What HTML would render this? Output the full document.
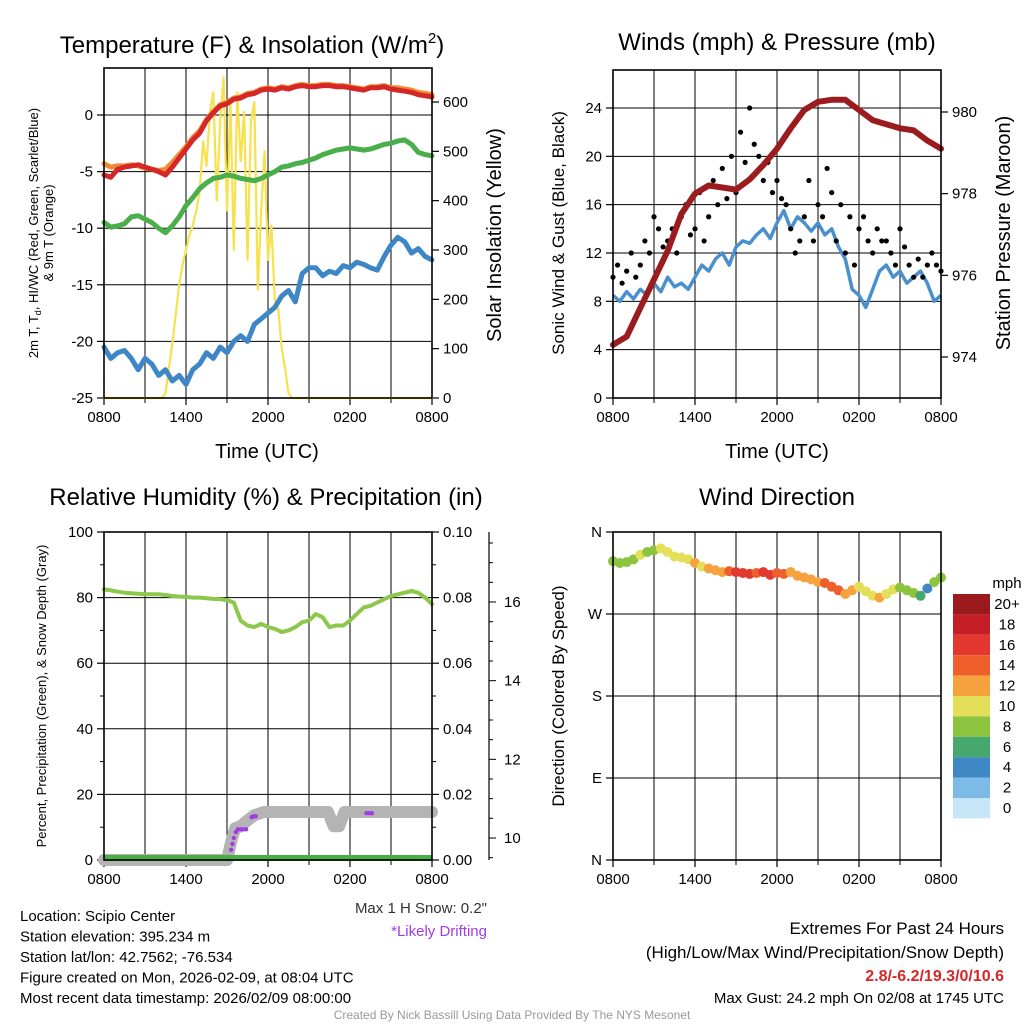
<!DOCTYPE html>
<html><head><meta charset="utf-8"><style>
body{margin:0;background:#fff}
svg{display:block;font-family:"Liberation Sans",sans-serif}
</style></head><body>
<svg id="c" width="1024" height="1024" viewBox="0 0 1024 1024">
<rect width="1024" height="1024" fill="#fff"/>
</svg>
<script>
// ---------- DATA ----------
const xTickLabels = ["0800","1400","2000","0200","0800"];
const tempRed = [-5.3,-5.5,-4.8,-4.6,-4.5,-4.4,-4.6,-4.8,-5.0,-5.3,-4.6,-3.8,-3.0,-2.2,-1.6,-0.5,0.2,0.8,1.0,1.4,1.5,1.8,1.9,2.2,2.3,2.2,2.4,2.3,2.5,2.6,2.5,2.5,2.6,2.6,2.5,2.5,2.4,2.3,2.2,2.4,2.4,2.5,2.3,2.2,2.1,2.0,1.8,1.7,1.6];
const tempOrange = [-4.3,-4.6,-4.5,-4.5,-4.4,-4.5,-4.7,-4.8,-4.9,-4.8,-4.2,-3.5,-2.8,-2.0,-1.4,-0.4,0.3,0.9,1.1,1.5,1.6,1.9,2.0,2.3,2.4,2.3,2.5,2.4,2.6,2.7,2.6,2.6,2.7,2.7,2.6,2.6,2.5,2.4,2.3,2.5,2.5,2.6,2.4,2.4,2.3,2.2,2.0,1.9,1.8];
const tempGreen = [-9.5,-9.9,-9.8,-9.6,-9.0,-8.9,-9.2,-9.5,-10.0,-10.4,-9.8,-9.0,-8.0,-7.3,-6.5,-6.0,-5.6,-5.5,-5.3,-5.4,-5.6,-5.7,-5.8,-5.6,-5.3,-5.0,-4.6,-4.5,-4.3,-4.2,-4.0,-3.8,-3.5,-3.3,-3.1,-3.0,-2.9,-3.0,-3.1,-3.0,-2.8,-2.6,-2.5,-2.3,-2.2,-2.6,-3.3,-3.5,-3.6];
const tempBlue = [-20.5,-21.5,-21,-20.8,-21.5,-22.5,-21.5,-22,-23,-22.5,-23.5,-23,-23.8,-22.5,-22,-21,-21.5,-20.5,-21,-20,-19.5,-20,-18.5,-18,-17.5,-17,-16,-15.5,-16.5,-14,-13.5,-13.5,-14.2,-13.8,-14,-13.3,-13.5,-13,-13.2,-13.5,-13.7,-12.5,-11.5,-10.8,-11.2,-12.2,-11.8,-12.5,-12.8];
const solarHours = [0,4.0,4.25,4.5,4.75,5.0,5.25,5.5,5.75,6.0,6.25,6.5,6.75,7.0,7.25,7.5,7.75,8.0,8.25,8.5,8.75,9.0,9.25,9.5,9.75,10.0,10.25,10.5,10.75,11.0,11.25,11.5,11.75,12.0,12.25,12.5,12.75,13.0,13.25,13.5,13.75,14.0,24];
const solarVals = [0,0,0,10,60,110,170,230,270,300,330,350,380,420,520,470,580,620,400,560,650,380,600,300,620,480,580,280,560,600,220,380,500,280,350,200,180,100,60,10,0,0,0];
const windSonic = [8.5,8,8.8,8.2,9,8.5,9.5,8.8,10,9.2,9.5,9,10,11,10.5,11.5,12,11,12.5,13,12.8,13.5,14,13.2,14.5,15.5,14,15,14.5,13.8,14.5,13.5,14,12.5,11.5,9,8.5,7.5,9,10.5,11,10,10.5,9.5,10,10.5,9.5,8,8.5];
const windGust = [10,11,9.5,10.5,12,10,11,13,12,15,14,12.5, 13,14,12,15,16,13.5,14,17,13,15,18,16, 19,16.5,20,17,22,19.5,24,21,20,18,19.5,17, 18,16.5,16,14,12,13,15,18,13,16,15,19, 17,13,16,12,15,11,14,15,13,12,14,13, 13,12,11,14,12.5,11,10,11.5,10,11,12,11,10.5];
const pressure = [974.3,974.5,975.2,975.9,976.6,977.5,978.0,978.2,978.15,978.1,978.35,978.7,979.1,979.6,980.05,980.25,980.3,980.3,980.05,979.8,979.7,979.6,979.55,979.3,979.1];
const rhVals = [82.5,82.2,81.8,81.5,81.3,81.2,81,81,81,80.8,80.5,80.3,80.2,80,80,79.8,79.6,79.5,79.2,78.5,73,71.5,71,72,71,70.5,69.5,70,71,72.5,73,75,74,71,71.5,71.5,73,75,77,77.5,78.5,79.5,80.5,81,81.5,82,81.5,80,78];
const snowHours = [0,9.0,9.3,9.6,10.0,10.5,11.0,11.7,16.4,16.8,17.2,17.6,24];
const snowDepth = [9.44,9.44,9.9,10.25,10.3,10.45,10.58,10.66,10.66,10.3,10.3,10.66,10.66];
const driftHours = [9.3,9.4,9.5,9.65,9.8,10.0,10.2,10.4,10.8,10.95,11.1,19.2,19.4,19.6];
const driftDepth = [9.7,9.85,10.0,10.15,10.22,10.22,10.22,10.22,10.53,10.55,10.55,10.63,10.63,10.63];
const dirVals = [328,326,327,330,335,338,340,342,338,333,332,330,326,322,320,318,316,317,316,315,314,315,316,313,315,314,316,312,310,308,305,304,300,296,292,296,300,295,290,288,292,297,299,296,293,290,298,305,310];
const dirSpeed = [8,8,8.5,9,10,9,8,10,10,10,11,10,12,11,12,13,12,14,16,17,16,15,17,16,15,14,12,13,12,12,13,14,15,14,13,12,11,10,10,12,11,10,9,8,8,6,5,8,9];
const speedLabels = ["20+","18","16","14","12","10","8","6","4","2","0"];
const speedColors = ["#9b1a1e","#c41f26","#e2382f","#ef5f2b","#f6a33f","#e4df58","#8cc43f","#46a86c","#3f88c5","#7cbbe6","#c6e6f8"];

// ---------- HELPERS ----------
const NS="http://www.w3.org/2000/svg";
const svg=document.getElementById('c');
function mk(tag,attrs,parent){const e=document.createElementNS(NS,tag);for(const k in attrs)e.setAttribute(k,attrs[k]);(parent||svg).appendChild(e);return e;}
function txt(s,x,y,size,anchor,parent,extra){const t=mk('text',Object.assign({x:x,y:y,'font-size':size,'text-anchor':anchor||'middle',fill:'#000'},extra||{}),parent);t.textContent=s;return t;}
function lin(d0,d1,r0,r1){return v=>r0+(v-d0)/(d1-d0)*(r1-r0);}
function pathFrom(xs,ys,fx,fy){return xs.map((h,i)=>(i?'L':'M')+fx(h).toFixed(1)+','+fy(ys[i]).toFixed(1)).join('');}
function idxHours(arr){return arr.map((_,i)=>i*24/(arr.length-1));}

function frame(x0,y0,x1,y1,name){
  const g=mk('g',{});
  
  
  const fx=lin(0,24,x0,x1);
  for(let h=3;h<24;h+=3){mk('line',{x1:fx(h),y1:y0,x2:fx(h),y2:y1,stroke:'#000','stroke-width':1},g);
    mk('line',{x1:fx(h),y1:y1,x2:fx(h),y2:y1+5,stroke:'#000','stroke-width':1},g);}
  xTickLabels.forEach((l,i)=>{const xx=fx(i*6);mk('line',{x1:xx,y1:y1,x2:xx,y2:y1+7,stroke:'#000','stroke-width':1.2},g);
    const t=txt(l,xx,y1+24,15,'middle',g);});
  return {g,fx};
}
function box(x0,y0,x1,y1,g){mk('rect',{x:x0,y:y0,width:x1-x0,height:y1-y0,fill:'none',stroke:'#000','stroke-width':1.6},g);}
function hgrid(vals,fy,x0,x1,g,x,side,labels){
  vals.forEach((v,i)=>{const yy=fy(v);
    if(x!==null){mk('line',{x1:x0,y1:yy,x2:x1,y2:yy,stroke:'#000','stroke-width':1},g);}
    const tx=side==='l'?x0:x1;
    mk('line',{x1:tx,y1:yy,x2:side==='l'?tx-7:tx+7,y2:yy,stroke:'#000','stroke-width':1.2},g);
    const t=txt(labels[i],side==='l'?tx-11:tx+11,yy+5,15,side==='l'?'end':'start',g);
    
  });
}
function rot(s,x,y,size,name){const t=txt(s,x,y,size,'middle',svg,{transform:`rotate(-90 ${x} ${y})`});return t;}
function title(s,x,y,name){const t=txt(s,x,y,24,'middle');return t;}

// ---------- PANEL 1: TEMPERATURE ----------
(function(){
  const X0=104,X1=432,Y0=68,Y1=398;
  const {g,fx}=frame(X0,Y0,X1,Y1,'temperature-panel');
  const fy=lin(-25,0,398,115);
  const fs=lin(0,600,398,102);
  const tv=[-25,-20,-15,-10,-5,0];
  hgrid(tv,fy,X0,X1,g,true,'l',tv.map(String));
  const sv=[0,100,200,300,400,500,600];
  hgrid(sv,fs,X0,X1,g,null,'r',sv.map(String));
  const hh=idxHours(tempRed);
  const s=[[solarHours,solarVals,fs,'#f7e14d',2.2,'solar-insolation-line'],[hh,tempBlue,fy,'#3e87c6',5,'heat-index-windchill-line'],[hh,tempGreen,fy,'#4aae4a',5,'dewpoint-line'],[hh,tempOrange,fy,'#f28b30',5,'temp-9m-line'],[hh,tempRed,fy,'#d62728',5,'temp-2m-line']];
  s.forEach(a=>{const p=mk('path',{d:pathFrom(a[0],a[1],fx,a[2]),fill:'none',stroke:a[3],'stroke-width':a[4],'stroke-linejoin':'round','stroke-linecap':'round'},g);
    });
  box(X0,Y0,X1,Y1,g);
})();
{const t=txt('Temperature (F) & Insolation (W/m',252,53,24,'middle');
 const ts=mk('tspan',{'font-size':15,dy:-10});ts.textContent='2';t.appendChild(ts);const t2=mk('tspan',{dy:10});t2.textContent=')';t.appendChild(t2);}
{const t=txt('',38,233,13,'middle',svg,{transform:'rotate(-90 38 233)'});
 const a=mk('tspan',{},t);a.textContent='2m T, T';const b=mk('tspan',{'font-size':9,dy:3},t);b.textContent='d';const c=mk('tspan',{dy:-3},t);c.textContent=', HI/WC (Red, Green, Scarlet/Blue)';}
rot('& 9m T (Orange)',53,233,13,'temperature-y-axis-title-2');
rot('Solar Insolation (Yellow)',501,235,20,'solar-y-axis-title');
{const t=txt('Time (UTC)',267,458,20);}

// ---------- PANEL 2: WINDS ----------
(function(){
  const X0=613,X1=941,Y0=70,Y1=398;
  const {g,fx}=frame(X0,Y0,X1,Y1,'winds-panel');
  const fy=lin(0,24,398,108);
  const fp=lin(974,980,357,112);
  const wv=[0,4,8,12,16,20,24];
  hgrid(wv,fy,X0,X1,g,true,'l',wv.map(String));
  const pv=[974,976,978,980];
  hgrid(pv,fp,X0,X1,g,null,'r',pv.map(String));
  const hw=idxHours(windSonic);
  const p1=mk('path',{d:pathFrom(hw,windSonic,fx,fy),fill:'none',stroke:'#4a90cf','stroke-width':3.5,'stroke-linejoin':'round'},g);
  
  const hg=idxHours(windGust);
  windGust.forEach((v,i)=>{const c=mk('circle',{cx:fx(hg[i]),cy:fy(v),r:2.6,fill:'#000'},g);
    });
  const hp=idxHours(pressure);
  const p2=mk('path',{d:pathFrom(hp,pressure,fx,fp),fill:'none',stroke:'#9b1c1f','stroke-width':6,'stroke-linejoin':'round','stroke-linecap':'round'},g);
  
  box(X0,Y0,X1,Y1,g);
})();
title('Winds (mph) & Pressure (mb)',777,50,'winds-title');
rot('Sonic Wind & Gust (Blue, Black)',564,233,17,'wind-y-axis-title');
rot('Station Pressure (Maroon)',1010,233,20,'pressure-y-axis-title');
{const t=txt('Time (UTC)',777,458,20);}

// ---------- PANEL 3: RH ----------
(function(){
  const X0=104,X1=432,Y0=532,Y1=860;
  const {g,fx}=frame(X0,Y0,X1,Y1,'humidity-panel');
  const fy=lin(0,100,860,532);
  const rv=[0,20,40,60,80,100];
  hgrid(rv,fy,X0,X1,g,true,'l',rv.map(String));
  hgrid(rv,fy,X0,X1,g,null,'r',['0.00','0.02','0.04','0.06','0.08','0.10']);
  for(let v=10;v<100;v+=20){mk('line',{x1:X0,y1:fy(v),x2:X0-4,y2:fy(v),stroke:'#000'},g);mk('line',{x1:X1,y1:fy(v),x2:X1+4,y2:fy(v),stroke:'#000'},g);}
  const fsn=lin(10,16,838,602);
  mk('line',{x1:489,y1:532,x2:489,y2:860,stroke:'#000','stroke-width':1.2},g);
  [10,12,14,16].forEach(v=>{mk('line',{x1:489,y1:fsn(v),x2:496,y2:fsn(v),stroke:'#000'},g);
    const t=txt(String(v),504,fsn(v)+5,15,'start',g);});
  for(let v=9.5;v<18;v+=0.5){const yy=fsn(v);if(yy>534&&yy<858&&v%2)mk('line',{x1:489,y1:yy,x2:493,y2:yy,stroke:'#000'},g);}
  const ps=mk('path',{d:pathFrom(snowHours,snowDepth,fx,fsn),fill:'none',stroke:'#b4b4b4','stroke-width':12,'stroke-linejoin':'round','stroke-linecap':'round'},g);
  
  driftHours.forEach((h,i)=>{const c=mk('circle',{cx:fx(h),cy:fsn(driftDepth[i]),r:2.2,fill:'#a23ae6'},g);
    });
  const pp=mk('line',{x1:fx(0),y1:fy(0)-2,x2:fx(24),y2:fy(0)-2,stroke:'#48ae45','stroke-width':6},g);
  
  const hr=idxHours(rhVals);
  const pr=mk('path',{d:pathFrom(hr,rhVals,fx,fy),fill:'none',stroke:'#8dc84c','stroke-width':4,'stroke-linejoin':'round','stroke-linecap':'round'},g);
  
  box(X0,Y0,X1,Y1,g);
})();
title('Relative Humidity (%) & Precipitation (in)',266,505,'humidity-title');
rot('Percent, Precipitation (Green), & Snow Depth (Gray)',46,696,13,'humidity-y-axis-title');

// ---------- PANEL 4: WIND DIRECTION ----------
(function(){
  const X0=613,X1=941,Y0=532,Y1=860;
  const {g,fx}=frame(X0,Y0,X1,Y1,'wind-direction-panel');
  const fy=lin(0,360,860,532);
  hgrid([0,90,180,270,360],fy,X0,X1,g,true,'l',['N','E','S','W','N']);
  const hd=idxHours(dirVals);
  dirVals.forEach((d,i)=>{let bi=Math.min(10,Math.floor(dirSpeed[i]/2));const col=speedColors[10-bi];
    const c=mk('circle',{cx:fx(hd[i]),cy:fy(d),r:5,fill:col},g);
    });
  box(X0,Y0,X1,Y1,g);
  const cb=mk('g',{});
  
  
  txt('mph',1007,588,15,'middle',cb);
  speedColors.forEach((c,i)=>{mk('rect',{x:953,y:594+i*20.4,width:37,height:20.4,fill:c},cb);
    const l=txt(speedLabels[i],1007,609+i*20.4,15,'middle',cb);});
})();
title('Wind Direction',777,505,'wind-direction-title');
rot('Direction (Colored By Speed)',564,696,17,'direction-y-axis-title');

// ---------- TEXT ----------
const info=["Location: Scipio Center","Station elevation: 395.234 m","Station lat/lon: 42.7562; -76.534","Figure created on Mon, 2026-02-09, at 08:04 UTC","Most recent data timestamp: 2026/02/09 08:00:00"];
info.forEach((s,i)=>{const t=txt(s,20,921+i*20.5,15,'start');});
{let t=txt('Max 1 H Snow: 0.2"',487,913,15,'end',svg,{fill:'#333'});
 t=txt('*Likely Drifting',487,936,15,'end',svg,{fill:'#a23ae6'});
 t=txt('Extremes For Past 24 Hours',1004,934,17,'end');
 t=txt('(High/Low/Max Wind/Precipitation/Snow Depth)',1004,958,17,'end');
 t=txt('2.8/-6.2/19.3/0/10.6',1004,981,16,'end',svg,{fill:'#d62728','font-weight':'bold'});
 t=txt('Max Gust: 24.2 mph On 02/08 at 1745 UTC',1004,1003,15,'end');
 t=txt('Created By Nick Bassill Using Data Provided By The NYS Mesonet',512,1019,12,'middle',svg,{fill:'#999'});}
</script>
</body></html>
